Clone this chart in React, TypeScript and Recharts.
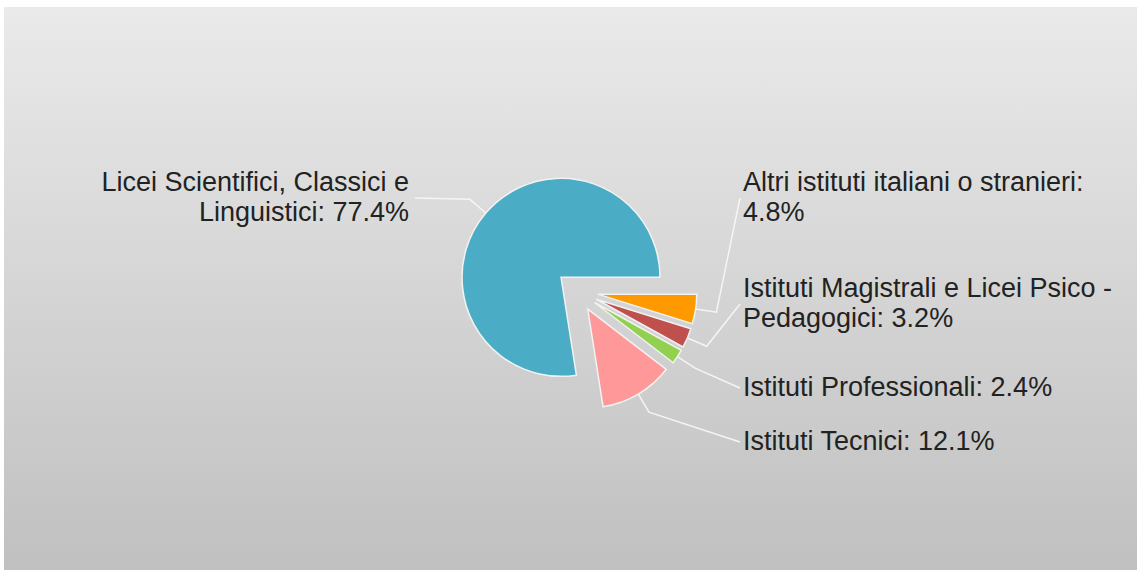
import { PieChart, Pie, Cell, Sector } from "recharts";

const categories = [
  "Licei Scientifici, Classici e Linguistici",
  "Istituti Tecnici",
  "Istituti Professionali",
  "Istituti Magistrali e Licei Psico - Pedagogici",
  "Altri istituti italiani o stranieri",
];
const shares = [77.4, 12.1, 2.4, 3.2, 4.8];
const colors = ["#4bacc6", "#ff9999", "#92d050", "#c0504d", "#ff9900"];

const data = categories.map((name, i) => ({ name, value: shares[i] }));

// vertical spot of each label, measured from the pie centre
const labelRows: Record<string, number> = {
  "Licei Scientifici, Classici e Linguistici": -93,
  "Istituti Tecnici": 151,
  "Istituti Professionali": 97,
  "Istituti Magistrali e Licei Psico - Pedagogici": 13,
  "Altri istituti italiani o stranieri": -93,
};

const RADIAN = Math.PI / 180;
const EXPLODE = 21;
const ELBOW = 21;
const LINE_H = 30;

const wrap = (text: string, max: number) => {
  const lines: string[] = [];
  let cur = "";
  text.split(" ").forEach((w) => {
    const next = cur ? cur + " " + w : w;
    if (next.length > max && cur) {
      lines.push(cur);
      cur = w;
    } else cur = next;
  });
  if (cur) lines.push(cur);
  return lines;
};

const ExplodedSlice = (props: any) => {
  const { cx, cy, midAngle } = props;
  const dx = EXPLODE * Math.cos(-midAngle * RADIAN);
  const dy = EXPLODE * Math.sin(-midAngle * RADIAN);
  return <Sector {...props} cx={cx + dx} cy={cy + dy} />;
};

const renderLabel = (props: any) => {
  const { cx, cy, midAngle, outerRadius, name, value } = props;
  const cos = Math.cos(-midAngle * RADIAN);
  const sin = Math.sin(-midAngle * RADIAN);
  const ax = cx + (outerRadius + EXPLODE) * cos;
  const ay = cy + (outerRadius + EXPLODE) * sin;
  const ex = ax + ELBOW * cos;
  const ey = ay + ELBOW * sin;
  const right = cos >= 0;
  const ly = cy + labelRows[name];
  const lx = cx + (right ? 163 : -162);
  const tx = cx + (right ? 166 : -168);
  const lines = wrap(`${name}: ${value.toFixed(1)}%`, 36);
  const n = lines.length;
  return (
    <g>
      <polyline
        points={`${ax},${ay} ${ex},${ey} ${lx},${ly}`}
        fill="none"
        stroke="#f5f5f5"
        strokeWidth={1.5}
      />
      <text
        textAnchor={right ? "start" : "end"}
        fill="#222"
        fontSize={27}
        fontFamily="'Liberation Sans', Arial, sans-serif"
      >
        {lines.map((l, k) => (
          <tspan key={k} x={tx} y={ly + 8 + (k - (n - 1) / 2) * LINE_H}>
            {l}
          </tspan>
        ))}
      </text>
    </g>
  );
};

export default function App() {
  return (
    <div
      style={{
        position: "absolute",
        left: 4,
        top: 7,
        width: 1133,
        height: 563,
        background: "linear-gradient(to bottom, #eaeaea, #c0c0c0)",
      }}
    >
      <PieChart width={1133} height={563} margin={{ top: 0, right: 0, bottom: 0, left: 0 }}>
        <Pie
          data={data}
          dataKey="value"
          nameKey="name"
          cx={573}
          cy={284}
          outerRadius={99}
          startAngle={0}
          endAngle={360}
          stroke="#f2f2f2"
          strokeWidth={1.5}
          shape={ExplodedSlice}
          label={renderLabel}
          labelLine={false}
          isAnimationActive={false}
        >
          {data.map((d, i) => (
            <Cell key={d.name} fill={colors[i]} />
          ))}
        </Pie>
      </PieChart>
    </div>
  );
}
